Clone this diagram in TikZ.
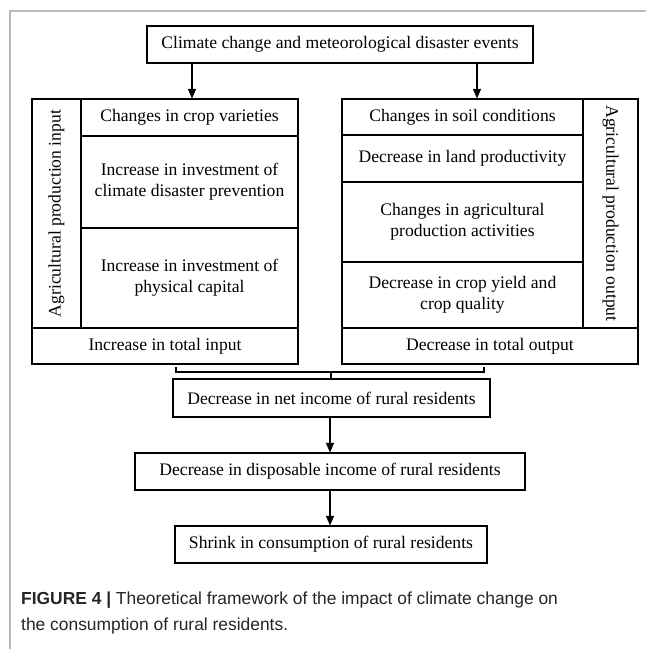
\documentclass[tikz,border=0pt]{standalone}
\usepackage{fontspec}
\setmainfont{Liberation Serif}
\newfontfamily\capfont{Liberation Sans}
\usetikzlibrary{arrows.meta}
\begin{document}
\begin{tikzpicture}[x=1pt,y=-1pt,
  box/.style={draw, line width=1.1pt, inner sep=0pt, align=center,
    font=\fontsize{17.6}{20.7}\selectfont},
  conn/.style={line width=1.1pt, -{Triangle[length=9.5pt,width=8pt]}},
  brk/.style={line width=1.1pt},
  captxt/.style={anchor=base west, inner sep=0pt, text=black!85,
    font=\capfont\fontsize{17.4}{26}\selectfont}]
\useasboundingbox (0,0) rectangle (646,649);
\fill[white] (0,0) rectangle (646,649);
% frame
\draw[gray!55, line width=1.6pt] (10,649) -- (10,11) -- (646,11);
% top
\node[box, minimum width=386pt, minimum height=37pt] (top) at (340,44.5)
  {Climate change and meteorological disaster events};
% left group
\node[box, rotate=90, minimum width=229pt, minimum height=49pt] (L) at (56.5,213.5)
  {Agricultural production input};
\node[box, minimum width=217pt, minimum height=37pt] (A1) at (189.5,117.5)
  {Changes in crop varieties};
\node[box, minimum width=217pt, minimum height=92pt] (A2) at (189.5,182)
  {Increase in investment of\\climate disaster prevention};
\node[box, minimum width=217pt, minimum height=100pt] (A3) at (189.5,278)
  {Increase in investment of\\physical capital};
\node[box, minimum width=266pt, minimum height=36pt] (TI) at (165,346)
  {Increase in total input};
% right group
\node[box, minimum width=241pt, minimum height=36pt] (B1) at (462.5,117)
  {Changes in soil conditions};
\node[box, minimum width=241pt, minimum height=47pt] (B2) at (462.5,158.5)
  {Decrease in land productivity};
\node[box, minimum width=241pt, minimum height=80pt] (B3) at (462.5,222)
  {Changes in agricultural\\production activities};
\node[box, minimum width=241pt, minimum height=66pt] (B4) at (462.5,295)
  {Decrease in crop yield and\\crop quality};
\node[box, rotate=-90, minimum width=229pt, minimum height=55pt] (R) at (610.5,213.5)
  {Agricultural production output};
\node[box, minimum width=296pt, minimum height=36pt] (TO) at (490,346)
  {Decrease in total output};
% lower chain
\node[box, minimum width=317pt, minimum height=38pt] (net) at (331.5,398)
  {Decrease in net income of rural residents};
\node[box, minimum width=390pt, minimum height=37pt] (disp) at (330,471.5)
  {Decrease in disposable income of rural residents};
\node[box, minimum width=312pt, minimum height=37pt] (shr) at (331,544.5)
  {Shrink in consumption of rural residents};
% arrows from top
\coordinate (tA) at (192,63);
\coordinate (tB) at (477,63);
\draw[conn] (tA) -- (tA |- A1.north);
\draw[conn] (tB) -- (tB |- B1.north);
% bracket
\coordinate (bl) at (176,367);
\coordinate (br) at (484,367);
\draw[brk] (bl) -- ++(0,5) -- (484,372) -- (br);
\draw[brk] (331,372) -- (331,379);
% chain arrows
\draw[conn] (net.south -| 330,0) -- (disp.north -| 330,0);
\draw[conn] (disp.south -| 330,0) -- (shr.north -| 330,0);
% caption
\node[captxt] (cap1) at (21,604)
  {\textbf{FIGURE 4 |} Theoretical framework of the impact of climate change on};
\node[captxt] (cap2) at (21,630)
  {the consumption of rural residents.};
\end{tikzpicture}
\end{document}
